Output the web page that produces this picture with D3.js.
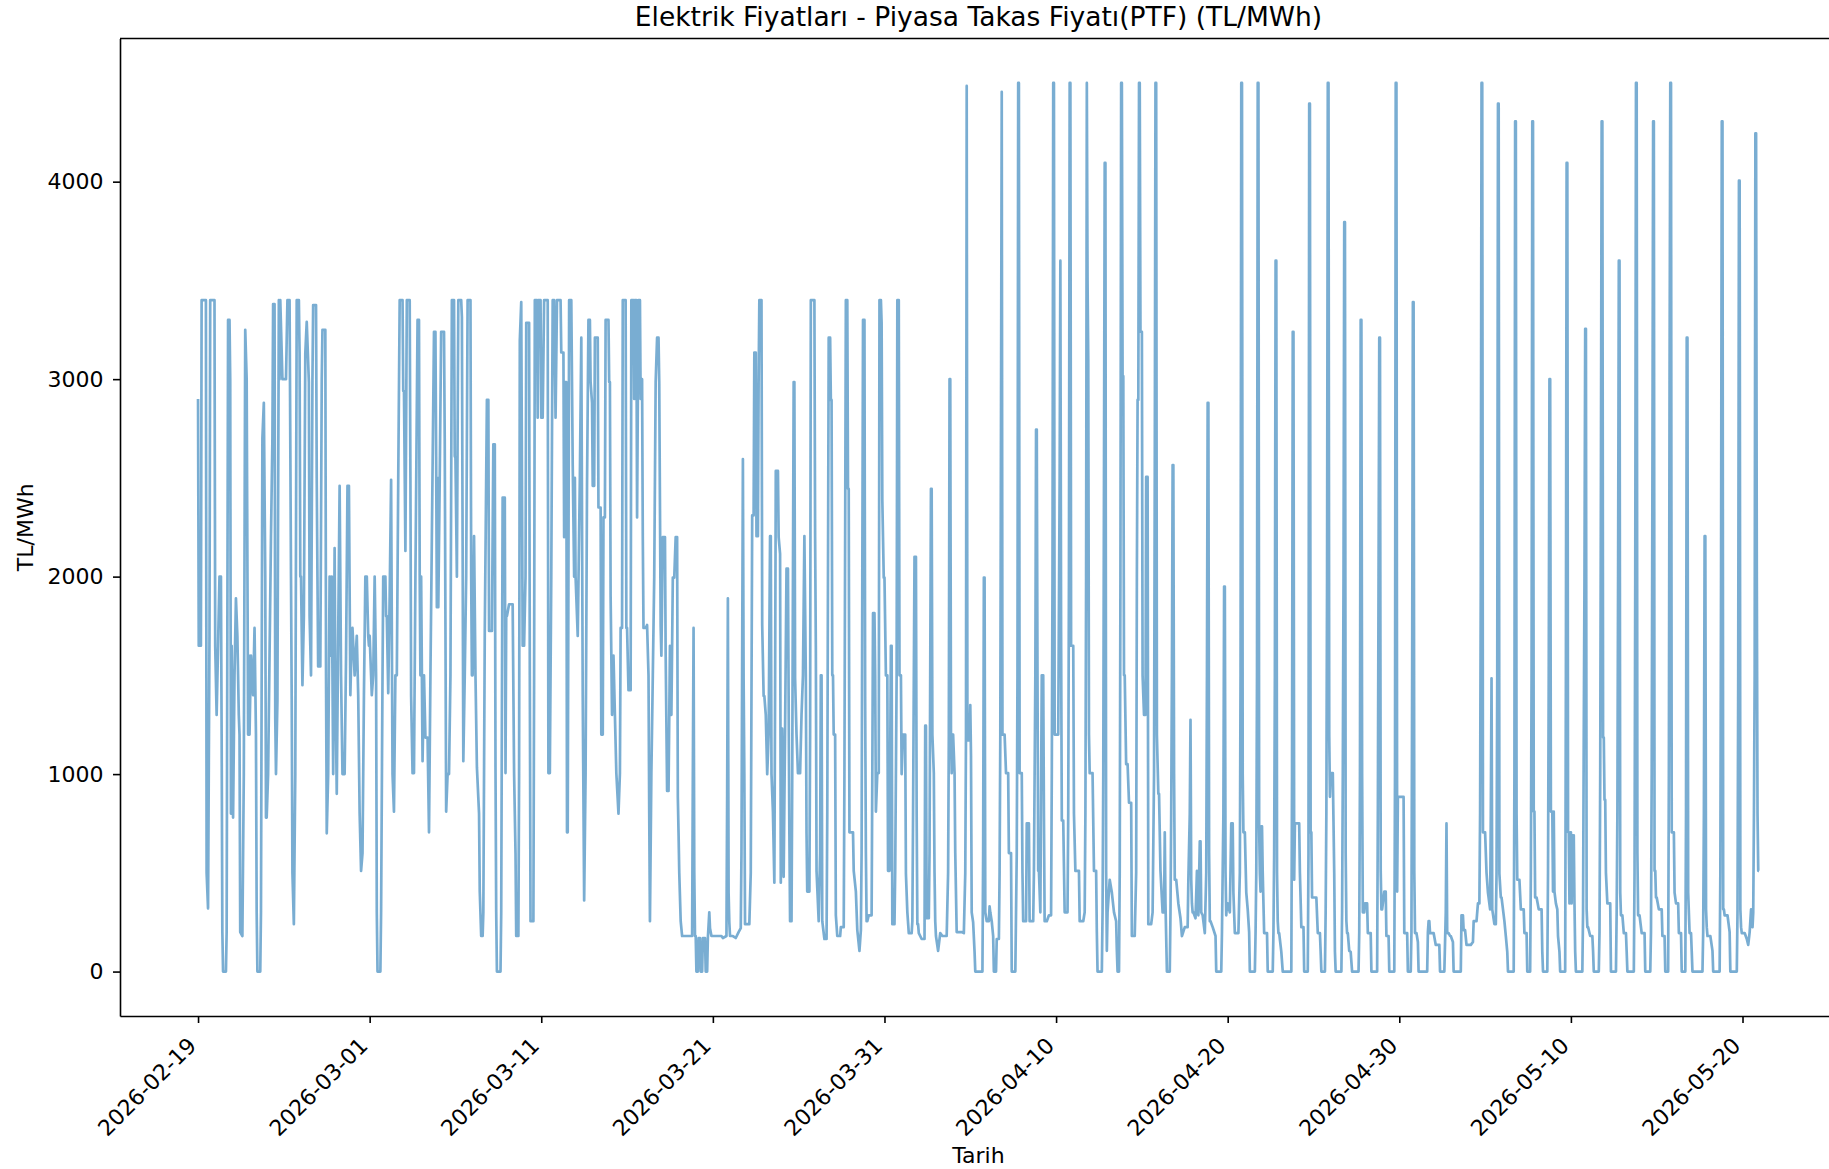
<!DOCTYPE html>
<html><head><meta charset="utf-8">
<script src="https://cdn.jsdelivr.net/npm/d3@7"></script>
<style>
body{margin:0;background:#fff}
svg{display:block}
text{font-family:"DejaVu Sans",sans-serif;fill:#000}
</style>
</head><body>
<svg id="chart" width="1829" height="1169"></svg>
<script>
const chartTitle = "Elektrik Fiyatları - Piyasa Takas Fiyatı(PTF) (TL/MWh)";
const xLabel = "Tarih";
const yLabel = "TL/MWh";
const startDay = "2026-02-19";
const xTickLabels = ["2026-02-19","2026-03-01","2026-03-11","2026-03-21","2026-03-31","2026-04-10","2026-04-20","2026-04-30","2026-05-10","2026-05-20"];
const yTickValues = [0,1000,2000,3000,4000];

// PTF: one entry per day, [hour, TL/MWh] pairs
const ptfByDay = [
[[0,2900],[1,1650],[4,1650],[5,3400],[11,3400],[12,500],[14,320],[16,1700],[17,3400],[23,3400]],
[[0,1650],[2,1300],[4,1650],[6,2000],[8,2000],[9,1200],[10,200],[11,0],[15,0],[16,200],[18,3300],[20,3300],[21,3000],[22,800],[23,1650]],
[[0,1300],[1,780],[3,1500],[5,1890],[7,1700],[9,1300],[10,1200],[11,200],[14,180],[16,1000],[18,3250],[20,3000],[22,1200],[23,1600]],
[[0,1200],[2,1600],[5,1400],[7,1740],[9,1200],[10,300],[11,0],[15,0],[16,300],[18,2700],[20,2880],[22,2000],[23,780]],
[[0,780],[2,1000],[4,1600],[6,2200],[8,2700],[9,3380],[11,3380],[12,1280],[13,1000],[15,1370],[17,3400],[18,3000],[19,3400],[22,3000],[23,3000]],
[[0,3000],[3,3000],[5,3400],[8,3400],[10,2000],[11,1380],[12,500],[14,240],[16,1000],[18,3400],[21,3400],[22,3135],[23,2000]],
[[0,2000],[2,1450],[4,1800],[6,3130],[8,3290],[11,2985],[12,1800],[14,1500],[16,3000],[17,3375],[21,3375],[22,2500],[23,2000]],
[[0,1545],[3,1545],[5,3000],[6,3250],[10,3250],[11,1500],[12,700],[14,1000],[16,2000],[17,1600],[19,2000],[21,1000],[23,2145]],
[[0,1500],[2,900],[4,1700],[6,2460],[8,1500],[10,1000],[13,1000],[15,1600],[17,2460],[19,2460],[21,1400],[23,1700]],
[[0,1740],[3,1500],[6,1700],[8,1400],[10,800],[12,510],[14,600],[16,1400],[18,2000],[20,2000],[22,1700],[23,1650]],
[[0,1700],[3,1400],[5,1500],[7,2000],[9,1500],[10,300],[11,0],[15,0],[16,300],[18,1500],[19,2000],[22,2000],[23,1800]],
[[0,1800],[2,1410],[4,1900],[6,2490],[8,1000],[10,810],[12,1500],[14,1500],[16,2500],[18,3400],[22,3400],[23,2940]],
[[0,2940],[2,2130],[4,3400],[8,3400],[9,2505],[10,1395],[12,1005],[14,1005],[16,2000],[19,3300],[21,3300],[22,2000],[23,1500]],
[[0,2000],[2,1065],[4,1500],[6,1185],[9,1185],[11,705],[13,1500],[15,2200],[18,3240],[20,3240],[21,2610],[22,1845],[23,2500]],
[[0,1845],[2,2500],[4,3240],[8,3240],[9,2700],[11,810],[13,1000],[15,1000],[17,1500],[19,3400],[22,3400],[23,2610]],
[[0,2600],[2,2000],[4,3400],[8,3400],[9,3315],[11,1065],[13,1500],[15,2000],[17,3400],[21,3400],[22,2000],[23,1500]],
[[0,1500],[2,2205],[4,1500],[6,1035],[9,800],[10,405],[12,180],[14,180],[15,300],[17,1725],[20,2895],[22,2895],[23,1725]],
[[0,1725],[3,1725],[5,2670],[7,2670],[8,1035],[9,300],[10,0],[15,0],[16,300],[18,2400],[21,2400],[22,1005],[23,1800]],
[[0,1800],[3,1860],[6,1860],[8,1860],[10,1005],[12,600],[13,180],[16,180],[17,1000],[18,3195],[20,3390],[22,1650],[23,1650]],
[[0,1650],[2,2000],[3,3285],[7,3285],[8,1500],[9,255],[13,255],[14,1500],[15,3400],[18,3400],[19,2805],[20,3400],[23,3400]],
[[0,2805],[2,2805],[4,3400],[9,3400],[10,1005],[12,1005],[14,2000],[16,3400],[18,3400],[20,2805],[22,3400],[23,3400]],
[[0,3400],[3,3400],[4,3135],[7,3135],[8,2200],[9,2985],[11,2985],[12,705],[13,705],[14,2000],[15,3400],[18,3400],[20,2565],[22,2000],[23,2500]],
[[0,2000],[3,1700],[6,2500],[8,3210],[10,1400],[12,360],[14,1000],[16,2460],[18,3300],[20,3300],[21,2985],[23,2880]],
[[0,2460],[2,2460],[3,3210],[7,3210],[8,2350],[11,2350],[12,1200],[14,1200],[15,2300],[17,2300],[18,3300],[22,3300],[23,2985]],
[[0,2985],[1,1900],[3,1300],[5,1600],[7,1300],[9,1005],[12,800],[14,1005],[15,1740],[17,1740],[18,3400],[22,3400],[23,1740]],
[[0,1740],[2,1425],[5,1425],[6,3400],[9,3400],[10,2900],[11,3400],[13,3400],[14,2300],[16,3400],[18,3400],[19,2900],[21,3000],[22,2200],[23,1740]],
[[0,1740],[2,1740],[4,1755],[6,1500],[7,800],[8,255],[10,1005],[12,1500],[14,2000],[16,2985],[18,3210],[20,3210],[21,2985],[23,1750]],
[[0,1600],[2,2200],[5,2200],[6,1600],[8,915],[10,915],[12,1650],[14,1300],[16,1995],[18,1995],[20,2200],[22,2200],[23,885]],
[[0,705],[1,500],[3,255],[5,180],[19,180],[20,1000],[21,1740],[22,500],[23,180]],
[[0,180],[1,0],[3,0],[4,170],[6,170],[7,0],[9,0],[10,170],[13,170],[14,0],[16,0],[17,170],[19,300],[20,220],[22,180],[23,180]],
[[0,180],[12,180],[14,170],[19,180],[20,900],[21,1890],[22,400],[23,250]],
[[0,180],[4,180],[8,170],[12,200],[15,220],[16,600],[18,2595],[19,1485],[20,1000],[21,240],[23,240]],
[[0,240],[3,240],[5,500],[7,2310],[9,2310],[10,3135],[12,3135],[13,2205],[15,2205],[16,3000],[17,3400],[20,3400],[21,1755],[23,1395]],
[[0,1395],[2,1300],[4,1000],[6,1200],[8,2205],[9,2205],[10,1000],[12,810],[14,450],[15,1395],[16,2535],[19,2535],[20,2200],[22,2115],[23,450]],
[[0,800],[1,1230],[3,480],[5,1230],[7,2040],[9,2040],[11,700],[12,255],[14,255],[15,1000],[17,2985],[18,2985],[19,1485],[21,1200],[23,1005]],
[[0,1005],[2,1005],[4,1300],[6,1500],[8,2205],[10,1500],[11,700],[12,405],[15,405],[16,1200],[17,3400],[22,3400],[23,2200]],
[[0,1650],[1,510],[4,255],[6,600],[7,1500],[8,1500],[9,255],[12,165],[15,165],[16,800],[18,3210],[20,3210],[21,2895],[22,2895],[23,1500]],
[[0,1500],[1,1200],[3,1200],[4,285],[6,180],[10,180],[11,225],[15,225],[16,1000],[18,3400],[20,3400],[21,2445],[22,2445],[23,705]],
[[0,705],[4,705],[5,510],[8,405],[10,210],[13,105],[15,210],[16,600],[17,2000],[18,3300],[20,3300],[21,1365],[22,600],[23,255]],
[[0,255],[2,285],[6,285],[7,1000],[8,1815],[10,1815],[11,1500],[12,810],[14,1005],[16,1005],[17,3400],[19,3400],[20,3285],[21,2385],[23,1995]],
[[0,1995],[2,1500],[4,1500],[5,510],[7,510],[9,1650],[10,1650],[11,240],[14,240],[15,510],[17,1500],[18,3400],[20,3400],[21,1500],[23,1500]],
[[0,1000],[2,1200],[5,1200],[6,495],[8,300],[10,195],[14,195],[15,255],[16,800],[18,2100],[20,2100],[21,800],[22,240],[23,240]],
[[0,195],[4,165],[8,165],[9,1245],[10,1245],[11,270],[14,270],[15,600],[17,2445],[18,2445],[19,1200],[21,1005],[22,500],[23,255]],
[[0,180],[3,105],[6,195],[9,180],[15,180],[17,500],[18,1200],[19,3000],[20,3000],[21,1200],[22,1005],[23,1200]],
[[0,1200],[2,1005],[3,600],[5,200],[12,200],[15,195],[17,500],[18,1200],[19,4485],[20,1170],[23,1170]],
[[0,1350],[1,1095],[2,300],[4,250],[6,100],[7,0],[17,0],[18,600],[19,1995],[20,1995],[21,300],[23,255]],
[[0,255],[2,255],[3,330],[4,300],[6,255],[8,180],[9,0],[12,0],[13,165],[16,165],[17,500],[18,1200],[20,4455],[21,1200],[23,1200]],
[[0,1200],[2,1005],[5,1005],[6,600],[9,600],[10,0],[15,0],[16,300],[17,600],[18,1500],[19,4500],[20,4500],[21,1005],[23,1005]],
[[0,1005],[1,500],[2,255],[6,255],[7,750],[10,750],[11,255],[16,255],[17,500],[18,1000],[19,1500],[20,2745],[21,2745],[22,1500],[23,510]],
[[0,510],[2,300],[4,1500],[6,1500],[7,800],[8,255],[11,255],[14,285],[17,285],[18,1000],[19,2000],[20,4500],[21,4500],[22,1200],[23,1200]],
[[0,1200],[3,1200],[5,2500],[6,3600],[7,1725],[8,765],[10,765],[12,300],[16,300],[17,800],[18,2000],[19,4500],[20,4500],[21,1650],[23,1650]],
[[0,1650],[1,800],[3,510],[8,510],[9,255],[14,255],[16,300],[17,800],[18,2000],[19,4500],[20,3500],[21,3100],[22,1200],[23,1005]],
[[0,1005],[3,1005],[5,510],[8,510],[9,200],[10,0],[16,0],[17,300],[18,1000],[19,2500],[20,4095],[21,4095],[22,510],[23,105]],
[[0,300],[3,465],[6,400],[9,300],[12,255],[13,105],[14,0],[16,0],[17,500],[18,2000],[19,4500],[20,4500],[21,3015],[22,3015],[23,1500]],
[[0,1500],[2,1050],[4,1050],[6,855],[9,855],[10,180],[14,180],[16,500],[17,2000],[18,2895],[19,2895],[20,4500],[21,4500],[22,3240],[23,3240]],
[[0,3240],[1,1500],[3,1300],[5,1300],[6,2505],[8,2505],[9,240],[13,240],[15,300],[17,1000],[18,2500],[19,4500],[20,4500],[21,1200],[23,900]],
[[0,900],[2,510],[5,300],[7,300],[8,705],[9,345],[11,0],[15,0],[16,300],[17,800],[18,1500],[19,2565],[20,2565],[21,1000],[22,465],[23,465]],
[[0,465],[3,345],[6,270],[8,180],[12,225],[16,225],[17,465],[19,800],[20,1275],[21,465],[22,345],[23,300]],
[[0,300],[3,270],[5,510],[7,285],[9,660],[10,660],[11,300],[13,285],[16,195],[18,500],[19,1500],[20,2880],[21,2880],[22,600],[23,255]],
[[0,255],[3,225],[7,180],[8,0],[15,0],[16,200],[18,800],[19,1950],[20,1950],[21,500],[22,285],[23,345]],
[[0,345],[3,300],[5,750],[7,750],[8,400],[10,195],[15,195],[17,500],[18,1500],[19,4500],[20,4500],[21,1000],[22,705],[23,705]],
[[0,705],[2,400],[4,315],[6,200],[7,0],[14,0],[15,200],[16,500],[17,1500],[18,4500],[19,4500],[20,735],[21,495],[22,405],[23,735]],
[[0,735],[1,500],[3,195],[7,195],[8,0],[15,0],[16,200],[17,600],[18,1500],[19,3600],[20,3600],[21,500],[22,255],[23,195]],
[[0,195],[3,100],[5,0],[17,0],[18,1000],[19,3240],[20,3240],[21,465],[22,750],[23,750]],
[[0,750],[4,750],[5,500],[7,225],[10,225],[11,0],[16,0],[17,600],[18,4395],[19,4395],[20,705],[21,705],[22,375],[23,375]],
[[0,375],[4,375],[6,195],[9,195],[10,100],[11,0],[16,0],[17,300],[18,800],[19,2000],[20,4500],[21,4500],[22,1200],[23,885]],
[[0,1005],[3,1005],[5,500],[6,100],[7,0],[15,0],[16,300],[17,1000],[18,2000],[19,3795],[20,3795],[21,600],[22,255],[23,195]],
[[0,195],[2,105],[4,100],[6,0],[15,0],[16,200],[17,1000],[18,3300],[19,3300],[20,1000],[21,300],[23,300]],
[[0,345],[3,345],[4,195],[8,195],[9,0],[17,0],[18,800],[19,2000],[20,3210],[21,3210],[22,510],[23,315]],
[[0,315],[3,405],[5,405],[6,180],[9,180],[10,0],[17,0],[18,1000],[19,4500],[20,4500],[21,405],[22,885],[23,885]],
[[0,885],[6,885],[7,195],[11,195],[12,0],[16,0],[17,200],[18,1500],[19,3390],[20,3390],[21,500],[22,195],[23,195]],
[[0,195],[2,150],[3,0],[15,0],[16,200],[17,255],[18,255],[19,195],[21,195],[23,195]],
[[0,195],[3,135],[8,135],[9,0],[15,0],[16,150],[17,300],[18,750],[19,195],[21,195],[23,180]],
[[0,180],[3,150],[4,0],[14,0],[15,285],[17,285],[18,210],[20,210],[22,135],[23,135]],
[[0,135],[4,135],[7,150],[8,255],[12,255],[14,345],[16,345],[17,800],[18,2000],[19,4500],[20,4500],[21,705],[23,705]],
[[0,705],[2,500],[4,400],[7,315],[8,800],[9,1485],[10,315],[13,240],[15,240],[16,500],[17,1500],[18,4395],[19,4395],[20,495],[22,375],[23,375]],
[[0,345],[3,255],[5,180],[7,100],[8,0],[16,0],[17,1000],[18,4305],[19,4305],[20,800],[21,465],[23,465]],
[[0,465],[2,315],[6,315],[7,195],[10,195],[11,0],[15,0],[16,500],[17,1500],[18,4305],[19,4305],[20,810],[21,810],[22,375],[23,375]],
[[0,375],[3,315],[7,315],[8,100],[9,0],[15,0],[16,500],[17,1500],[18,3000],[19,3000],[20,810],[22,810],[23,405]],
[[0,810],[1,405],[3,345],[5,315],[6,180],[8,100],[9,0],[16,0],[17,1500],[18,4095],[19,4095],[20,705],[21,705],[22,345],[23,705]],
[[0,705],[1,345],[2,690],[3,400],[4,690],[5,345],[6,100],[7,0],[16,0],[17,300],[18,1200],[19,2000],[20,3255],[21,3255],[22,315],[23,225]],
[[0,225],[3,180],[6,180],[7,105],[8,0],[15,0],[16,200],[17,1000],[18,2500],[19,4305],[20,4305],[21,1185],[22,1185],[23,870]],
[[0,870],[1,500],[3,345],[7,345],[8,0],[15,0],[16,300],[17,800],[18,2000],[19,3600],[20,3600],[21,400],[22,285],[23,285]],
[[0,285],[2,195],[5,195],[6,100],[7,0],[16,0],[17,500],[18,2000],[19,4500],[20,4500],[21,600],[22,285],[23,285]],
[[0,285],[3,195],[7,195],[8,0],[15,0],[16,200],[17,1000],[18,2500],[19,4305],[20,4305],[21,510],[22,510],[23,375]],
[[0,375],[3,315],[7,315],[8,180],[11,180],[12,0],[16,0],[17,1000],[18,3000],[19,4500],[20,4500],[21,705],[23,705]],
[[0,705],[1,400],[3,345],[6,345],[7,195],[10,195],[11,0],[16,0],[17,800],[18,3210],[19,3210],[20,400],[22,195],[23,195]],
[[0,195],[1,100],[2,0],[16,0],[17,200],[18,800],[19,2205],[20,2205],[21,315],[22,225],[23,180]],
[[0,180],[3,180],[6,105],[7,0],[16,0],[17,500],[18,2000],[19,4305],[20,4305],[21,315],[22,315],[23,285]],
[[0,285],[3,285],[6,200],[7,0],[16,0],[17,300],[18,1500],[19,4005],[20,4005],[21,315],[22,225],[23,195]],
[[0,195],[3,195],[6,165],[8,135],[10,200],[12,315],[14,225],[15,300],[16,800],[17,1500],[18,4245],[19,4245],[20,2000],[21,800],[22,510],[23,510]]
];

// ---- layout ----
const W = 1829, H = 1169;
const axLeft = 120, axTop = 38.5, axBottom = 1016, axRight = 1837;
const tickFont = 22;

const parseDay = d3.utcParse("%Y-%m-%d");
const t0 = parseDay(startDay);
const points = [];
ptfByDay.forEach((day, i) => {
  day.forEach(([h, v]) => {
    points.push({t: d3.utcHour.offset(t0, i * 24 + h), v: v});
  });
});

const [tMin, tMax] = d3.extent(points, d => d.t);
const tPad = (tMax - tMin) * 0.05;
const x = d3.scaleUtc()
  .domain([new Date(+tMin - tPad), new Date(+tMax + tPad)])
  .range([axLeft, axRight]);

const [vMin, vMax] = d3.extent(points, d => d.v);
const vPad = (vMax - vMin) * 0.05;
const y = d3.scaleLinear()
  .domain([vMin - vPad, vMax + vPad])
  .range([axBottom, axTop]);

const svg = d3.select("#chart");
svg.append("rect").attr("width", W).attr("height", H).attr("fill", "#fff");

svg.append("defs").append("clipPath").attr("id", "plotclip")
  .append("rect").attr("x", axLeft).attr("y", axTop)
  .attr("width", axRight - axLeft).attr("height", axBottom - axTop);

// line
const line = d3.line().x(d => x(d.t)).y(d => y(d.v));
svg.append("path")
  .datum(points)
  .attr("clip-path", "url(#plotclip)")
  .attr("fill", "none")
  .attr("stroke", "#1f77b4")
  .attr("stroke-opacity", 0.6)
  .attr("stroke-width", 2.7)
  .attr("stroke-linejoin", "round")
  .attr("d", line);

// y axis
const yAxis = svg.append("g")
  .attr("transform", `translate(${axLeft},0)`)
  .call(d3.axisLeft(y).tickValues(yTickValues).tickFormat(d3.format("d"))
        .tickSize(7).tickSizeOuter(0).tickPadding(9.5));
yAxis.attr("font-family", null).attr("font-size", null);
yAxis.selectAll(".tick text").attr("font-size", tickFont).attr("fill", "#000");
yAxis.selectAll(".tick line").attr("stroke", "#000").attr("stroke-width", 1.6);
yAxis.select(".domain").attr("stroke", "#000").attr("stroke-width", 1.6);

// x axis
const xTickDates = xTickLabels.map(parseDay);
const xAxis = svg.append("g")
  .attr("transform", `translate(0,${axBottom})`)
  .call(d3.axisBottom(x).tickValues(xTickDates).tickFormat(d3.utcFormat("%Y-%m-%d"))
        .tickSize(7).tickSizeOuter(0).tickPadding(0));
xAxis.attr("font-family", null).attr("font-size", null);
xAxis.selectAll(".tick line").attr("stroke", "#000").attr("stroke-width", 1.6);
xAxis.select(".domain").attr("stroke", "#000").attr("stroke-width", 1.6);
xAxis.selectAll(".tick text")
  .attr("font-size", tickFont)
  .attr("fill", "#000")
  .attr("text-anchor", "end")
  .attr("dy", null)
  .attr("y", null)
  .attr("transform", "translate(-1,31) rotate(-45)");

// top and right spines
svg.append("line").attr("x1", axLeft).attr("x2", axRight).attr("y1", axTop).attr("y2", axTop)
  .attr("stroke", "#000").attr("stroke-width", 1.6);
svg.append("line").attr("x1", axRight).attr("x2", axRight).attr("y1", axTop).attr("y2", axBottom)
  .attr("stroke", "#000").attr("stroke-width", 1.6);

// title & labels
svg.append("text")
  .attr("x", (axLeft + axRight) / 2).attr("y", 26)
  .attr("text-anchor", "middle").attr("font-size", 26.5)
  .text(chartTitle);
svg.append("text")
  .attr("x", (axLeft + axRight) / 2).attr("y", 1163)
  .attr("text-anchor", "middle").attr("font-size", tickFont)
  .text(xLabel);
svg.append("text")
  .attr("transform", `translate(33,${(axTop + axBottom) / 2}) rotate(-90)`)
  .attr("text-anchor", "middle").attr("font-size", tickFont)
  .text(yLabel);
</script>
</body></html>
